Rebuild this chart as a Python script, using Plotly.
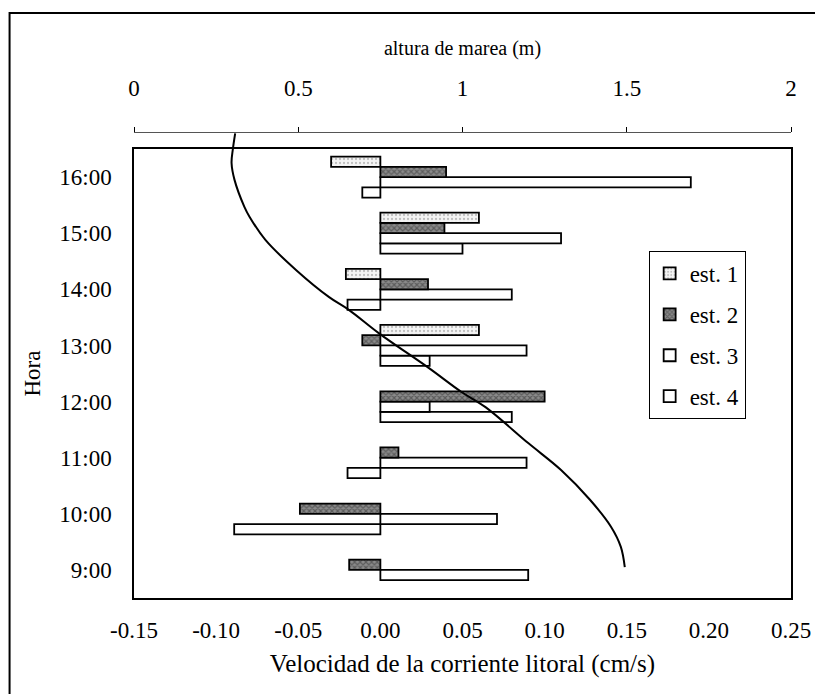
import plotly.graph_objects as go

# ---- data ----
horas = ['9:00', '10:00', '11:00', '12:00', '13:00', '14:00', '15:00', '16:00']
est1 = [None, None, None, None, 0.060, -0.021, 0.060, -0.030]
est2 = [-0.019, -0.049, 0.011, 0.100, -0.011, 0.029, 0.039, 0.040]
est3 = [0.090, 0.071, 0.089, 0.030, 0.089, 0.080, 0.110, 0.189]
est4 = [None, -0.089, -0.020, 0.080, 0.030, -0.020, 0.050, -0.011]

marea_hora = [9.05, 9.41, 9.77, 10.25, 10.78, 11.26, 11.90, 12.17, 12.60, 13.22,
              13.63, 13.86, 14.34, 14.88, 15.29, 15.47, 15.95, 16.25, 16.50, 16.78]
marea_altura = [1.494, 1.482, 1.452, 1.388, 1.300, 1.200, 1.070, 0.997, 0.897, 0.745,
                0.655, 0.594, 0.494, 0.400, 0.352, 0.336, 0.306, 0.297, 0.301, 0.308]

vel_ticks = [-0.15, -0.10, -0.05, 0.00, 0.05, 0.10, 0.15, 0.20, 0.25]
marea_ticks = [0, 0.5, 1, 1.5, 2]

FONT = "Liberation Serif, Times New Roman, DejaVu Serif, serif"
FS = 23

fig = go.Figure()

styles = {
    'est. 1': dict(color='#f4f4f4', pattern=dict(shape='.', fgcolor='#8a8a8a', bgcolor='#f4f4f4', size=4, solidity=0.25)),
    'est. 2': dict(color='#5e5e5e', pattern=dict(shape='x', fgcolor='#2e2e2e', bgcolor='#8a8a8a', size=4, solidity=0.5)),
    'est. 3': dict(color='white'),
    'est. 4': dict(color='white'),
}
series = [('est. 4', est4, 4), ('est. 3', est3, 3), ('est. 2', est2, 2), ('est. 1', est1, 1)]
for name, vals, rank in series:
    m = dict(styles[name])
    m['line'] = dict(color='black', width=1.8)
    fig.add_trace(go.Bar(
        y=horas, x=vals, orientation='h', name=name, marker=m,
        legendrank=rank, legendgroup=name, xaxis='x', yaxis='y'))

fig.add_trace(go.Scatter(
    x=marea_altura, y=marea_hora, mode='lines',
    line=dict(color='black', width=2, shape='spline', smoothing=1.0),
    xaxis='x2', yaxis='y2', showlegend=False, hoverinfo='skip'))

OFF = 8  # page body margin
W, H = 823 - OFF, 694 - OFF
L, R, T, B = 134 - OFF, 794 - OFF, 133 - OFF, 598 - OFF
PT = 149 - OFF
plot_w, plot_h = R - L, B - T
ytop_frac = (B - PT) / plot_h
zero_frac = (0 - (-0.15)) / 0.40
band_px = (B - PT) / len(horas)

fig.update_layout(
    width=W, height=H,
    margin=dict(l=L, r=W - R, t=T, b=H - B, pad=0),
    paper_bgcolor='white', plot_bgcolor='rgba(0,0,0,0)',
    barmode='group', bargap=0.27, bargroupgap=0,
    font=dict(family=FONT, size=FS, color='black'),
    showlegend=True,
    legend=dict(x=(651 - OFF - L) / plot_w, y=(B - (251 - OFF)) / plot_h, xanchor='left', yanchor='top',
                bordercolor='black', borderwidth=1, bgcolor='white',
                font=dict(family=FONT, size=23), tracegroupgap=8,
                itemwidth=30),
    xaxis=dict(range=[-0.15, 0.25], tickvals=vel_ticks, ticktext=[f"{v:.2f}" for v in vel_ticks],
               showgrid=False, zeroline=False, showline=True, mirror=True, linecolor='black', linewidth=1.5,
               ticks='', ticklabelstandoff=11,
               title=dict(text='Velocidad de la corriente litoral (cm/s)', standoff=12,
                          font=dict(family=FONT, size=25)),
               domain=[0, 1], anchor='y'),
    yaxis=dict(type='category', categoryarray=horas, range=[-0.5, len(horas) - 0.5],
               domain=[0, ytop_frac], showgrid=False, zeroline=False, showline=True, mirror=True,
               linecolor='black', linewidth=1.5, ticks='', ticklabelstandoff=16,
               title=dict(text='Hora', standoff=12, font=dict(family=FONT, size=FS)), anchor='x'),
    yaxis3=dict(overlaying='y', anchor='free', position=zero_frac, range=[-0.5, len(horas) - 0.5],
                tickvals=[i + 0.5 for i in range(len(horas) - 1)], ticks='outside', ticklen=4,
                tickcolor='black', showticklabels=False, showgrid=False, zeroline=False,
                showline=True, linecolor='black', linewidth=1.5),
    xaxis2=dict(range=[0, 2], tickvals=marea_ticks, ticktext=['0', '0.5', '1', '1.5', '2'],
                side='top', anchor='y2', domain=[0, 1], showgrid=False, zeroline=False,
                showline=True, linecolor='#555555', linewidth=1, ticks='outside', ticklen=5,
                tickcolor='black', ticklabelstandoff=22,
                title=dict(text='altura de marea (m)', standoff=14, font=dict(family=FONT, size=20))),
    yaxis2=dict(range=[8.5, 8.5 + plot_h / band_px], domain=[0, 1],
                anchor='x2', visible=False),
    shapes=[dict(type='rect', xref='paper', yref='paper',
                 x0=(1 - L) / plot_w, x1=(821 - OFF - L) / plot_w,
                 y0=(B - 720) / plot_h, y1=(B - (13 - OFF)) / plot_h,
                 line=dict(color='black', width=2), fillcolor='rgba(0,0,0,0)', layer='below')],
)

fig.write_html("out.html")
